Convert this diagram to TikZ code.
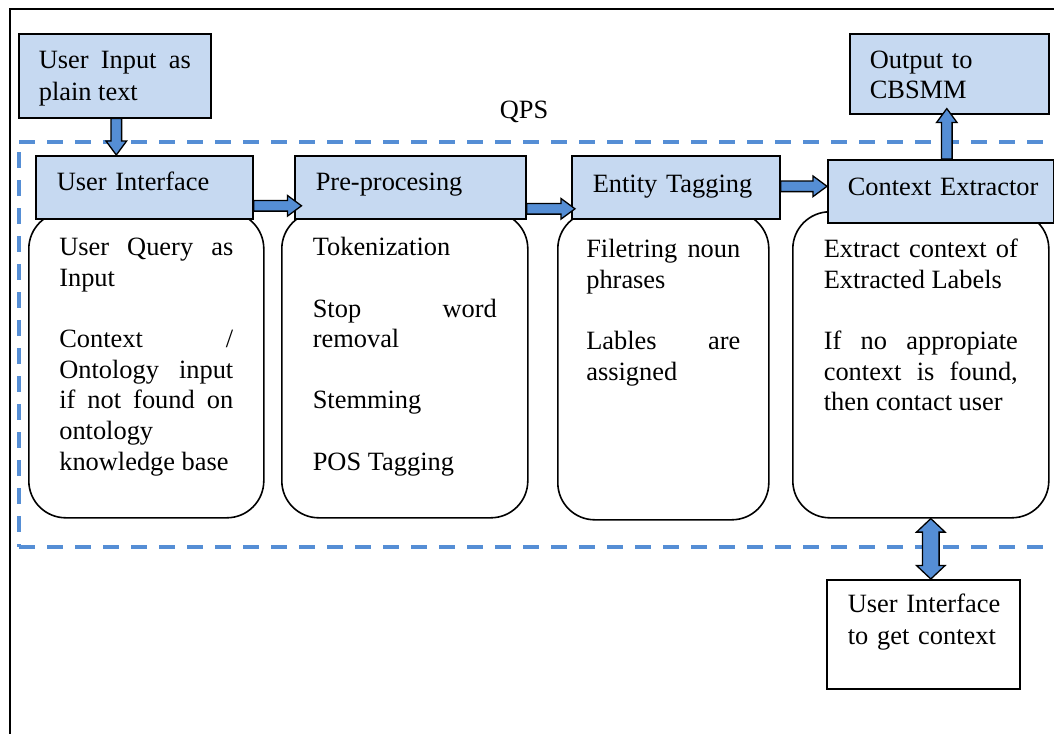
\documentclass[tikz,border=0pt]{standalone}
\usepackage{fontspec}
\setmainfont{Liberation Serif}
\usetikzlibrary{calc}
\definecolor{boxblue}{HTML}{C6D9F1}
\definecolor{arrblue}{HTML}{558ED5}
\tikzset{
  txt/.style={font=\fontsize{26.4}{30.6}\selectfont},
  hbox/.style={draw, line width=1.6pt, fill=boxblue, inner ysep=0pt, inner xsep=21pt,
    align=left, anchor=north west, text height=35pt, text depth=28pt, txt},
  rbox/.style={draw, line width=1.6pt, rounded corners=37pt, inner ysep=0pt,
    align=justify, anchor=north west, txt},
  pbox/.style={draw, line width=1.6pt, inner ysep=0pt, inner xsep=20pt, anchor=north west},
  arr/.style={draw=black, fill=arrblue, line width=1.3pt, line join=miter},
  qpsline/.style={draw=arrblue, line width=4pt, dash pattern=on 16pt off 12pt},
  frame/.style={draw=black, line width=1.6pt}
}
\newcommand\barrow[2]{%
  \coordinate (bah) at ($(#2)!14pt!(#1)$);
  \filldraw[arr] ($(#1)!5.3pt!90:(#2)$) -- ($(bah)!5.3pt!-90:(#1)$) -- ($(bah)!10.3pt!-90:(#1)$)
    -- (#2) -- ($(bah)!10.3pt!90:(#1)$) -- ($(bah)!5.3pt!90:(#1)$) -- ($(#1)!5.3pt!-90:(#2)$) -- cycle;}
\newcommand\dbarrow[2]{%
  \coordinate (bhA) at ($(#1)!13.5pt!(#2)$);
  \coordinate (bhB) at ($(#2)!13.5pt!(#1)$);
  \filldraw[arr] (#1) -- ($(bhA)!14.3pt!90:(#2)$) -- ($(bhA)!8.3pt!90:(#2)$)
    -- ($(bhB)!8.3pt!-90:(#1)$) -- ($(bhB)!14.3pt!-90:(#1)$) -- (#2)
    -- ($(bhB)!14.3pt!90:(#1)$) -- ($(bhB)!8.3pt!90:(#1)$)
    -- ($(bhA)!8.3pt!-90:(#2)$) -- ($(bhA)!14.3pt!-90:(#2)$) -- cycle;}
\begin{document}
\begin{tikzpicture}[x=1pt, y=-1pt]
\useasboundingbox (0,0) rectangle (1054,733);
% outer frame
\draw[frame] (10,745) -- (10,9) -- (1070,9);
% QPS dashed region
\draw[qpsline] (19,142) -- (1070,142);
\draw[qpsline] (19,547) -- (1070,547);
\draw[qpsline] (19,152) -- (19,547);
\node[txt, anchor=base] (qps) at (524,119) {QPS};
% rounded boxes
\node[rbox, text width=174pt, inner xsep=30.5pt, text height=44pt, text depth=262pt] (r1) at (28,211)
  {User Query as\linebreak Input\\[30.6pt]Context /\linebreak Ontology input\linebreak if not found on\linebreak ontology\\knowledge base};
\node[rbox, text width=184pt, inner xsep=31pt, text height=44pt, text depth=262pt] (r2) at (281,211)
  {Tokenization\\[30.6pt]Stop word\linebreak removal\\[30.6pt]Stemming\\[30.6pt]POS Tagging};
\node[rbox, text width=154pt, inner xsep=28.5pt, text height=46pt, text depth=262pt] (r3) at (557,211)
  {Filetring noun\linebreak phrases\\[30.6pt]Lables are\linebreak assigned};
\node[rbox, text width=194pt, inner xsep=31pt, text height=46pt, text depth=260pt] (r4) at (792,211)
  {Extract context of\linebreak Extracted Labels\\[30.6pt]If no appropiate\linebreak context is found,\linebreak then contact user};
% header boxes
\node[hbox, text width=175pt] (ui) at (35,155) {\mbox{User Interface}};
\node[hbox, text width=189pt] (pre) at (294,155) {\mbox{Pre-procesing}};
\node[hbox, text width=166pt, text height=37pt, text depth=26pt] (ent) at (571,155) {\mbox{Entity Tagging}};
\node[hbox, text width=186pt, inner xsep=20pt, text height=36pt, text depth=27pt] (ctx) at (827,159) {\mbox{Context Extractor}};
% outside boxes
\node[pbox, fill=boxblue, text width=152pt, align=justify, text height=35pt, text depth=49pt,
  font=\fontsize{26.4}{31.5}\selectfont] (in) at (18,33) {User Input as\linebreak plain text};
\node[pbox, fill=boxblue, text width=159pt, align=left, text height=35pt, text depth=45pt,
  font=\fontsize{26.4}{29.3}\selectfont] (out) at (849,33) {Output to\\CBSMM};
\node[pbox, fill=white, text width=151pt, inner xsep=21pt, align=left, text height=33pt, text depth=76pt,
  font=\fontsize{26.4}{32}\selectfont] (uic) at (826,579) {\mbox{User Interface}\\\mbox{to get context}};
% arrows
\coordinate (a1s) at ($(in.south)+(1.5,0)$);
\coordinate (a1e) at (a1s |- ui.north);
\barrow{a1s}{a1e}
\coordinate (a2s) at ($(ui.east)+(0,18.5)$);
\coordinate (a2e) at ($(pre.west |- a2s)+(7.5,0)$);
\barrow{a2s}{a2e}
\coordinate (a3s) at ($(pre.east)+(0,21.5)$);
\coordinate (a3e) at ($(ent.west |- a3s)+(4,0)$);
\barrow{a3s}{a3e}
\coordinate (a4s) at ($(ent.east)+(0,-1)$);
\coordinate (a4e) at (ctx.west |- a4s);
\barrow{a4s}{a4e}
\coordinate (a5s) at ($(ctx.north)+(6,0)$);
\coordinate (a5e) at ($(a5s |- out.south)+(0,-6)$);
\barrow{a5s}{a5e}
\coordinate (a6s) at ($(r4.south)+(10,0)$);
\coordinate (a6e) at (a6s |- uic.north);
\dbarrow{a6s}{a6e}
\end{tikzpicture}
\end{document}
